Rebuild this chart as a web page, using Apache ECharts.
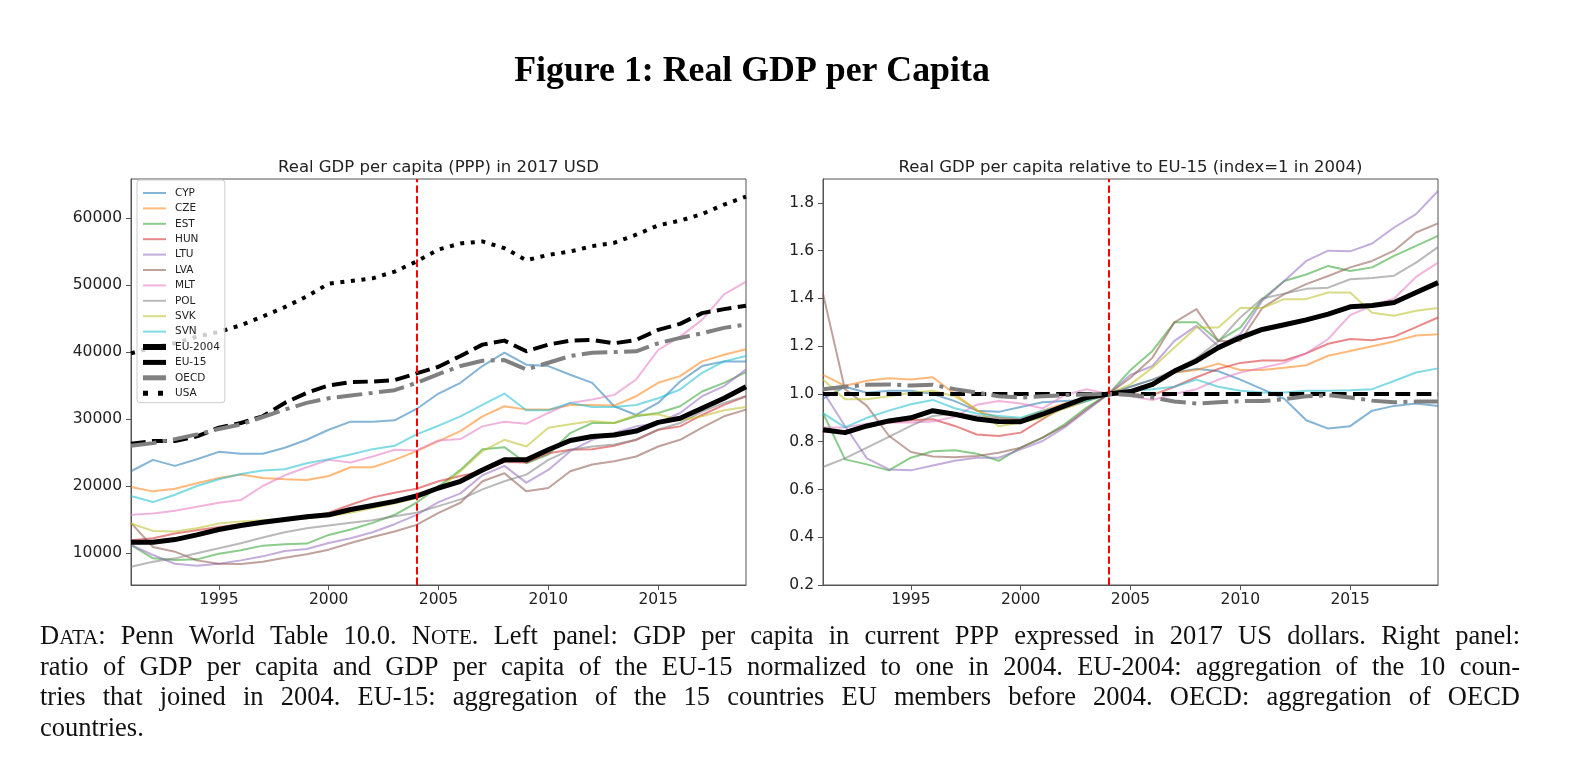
<!DOCTYPE html>
<html><head><meta charset="utf-8">
<script src="https://cdn.jsdelivr.net/npm/echarts@6/dist/echarts.min.js"></script>
<style>html,body{margin:0;padding:0;background:#fff}#c{width:1570px;height:766px}</style>
</head><body><div id="c"></div>
<script>
// ---------- data ----------
const years = ['1991','1992','1993','1994','1995','1996','1997','1998','1999','2000','2001','2002','2003','2004','2005','2006','2007','2008','2009','2010','2011','2012','2013','2014','2015','2016','2017','2018','2019'];
const countries = ['CYP','CZE','EST','HUN','LTU','LVA','MLT','POL','SVK','SVN'];
const aggregatesLeft = ['EU-2004','EU-15','OECD','USA'];
const aggregatesRight = ['EU-2004','EU-15','OECD'];
const leftTicks = [10000,20000,30000,40000,50000,60000];
const rightTicks = [0.2,0.4,0.6,0.8,1.0,1.2,1.4,1.6,1.8];
const xTickYears = ['1995','2000','2005','2010','2015'];
const markYear = '2004';

// Left panel: real GDP per capita (PPP, 2017 USD)
const gdpCYP = [22200,23900,23000,24000,25100,24800,24800,25700,26900,28400,29600,29600,29800,31500,33800,35400,37900,39900,38100,37900,36600,35400,31900,30600,32400,35600,37900,38600,38600];
const gdpCZE = [19850,19200,19600,20400,21200,21700,21200,21000,20900,21500,22800,22800,23900,25200,26700,28200,30400,31900,31400,31400,32100,32100,32000,33400,35400,36400,38600,39600,40400];
const gdpEST = [11200,9200,8950,9050,9900,10400,11100,11300,11400,12700,13500,14500,15700,17500,19900,22400,25500,25800,23400,24700,27900,29400,29400,30400,30900,31900,34100,35400,37000];
const gdpHUN = [11900,12200,12900,13400,13900,14300,14700,15000,15200,16000,17200,18300,19000,19600,20700,21500,22200,23600,23500,24900,25400,25500,26000,26900,28400,28900,30600,32100,33400];
const gdpLTU = [11200,9700,8400,8100,8400,8900,9500,10300,10600,11500,12200,13100,14300,15700,17600,18900,21600,23000,20500,22400,25200,26900,27900,28900,29400,30900,33400,34900,37400];
const gdpLVA = [14500,10900,10200,8900,8400,8350,8700,9300,9800,10500,11500,12400,13200,14200,16000,17500,20700,21900,19200,19700,22200,23200,23700,24400,25900,26900,28700,30400,31400];
const gdpMLT = [15700,15900,16300,16900,17500,17900,20000,21600,22800,23900,23500,24400,25400,25300,26800,27000,28900,29600,29300,30900,32400,32900,33600,35900,40300,42300,44800,48600,50500];
const gdpPOL = [7960,8700,9200,9950,10700,11450,12300,13100,13700,14100,14500,14900,15500,16000,17000,18000,19500,20700,21700,23900,25400,25900,26200,26900,28400,29400,31100,32400,33400];
const gdpSVK = [14400,13300,13200,13700,14400,14700,14900,15100,15200,15500,16000,16700,17400,18200,19500,22200,25200,26900,25900,28700,29200,29700,29400,30600,30700,29800,30400,31300,31800];
const gdpSVN = [18500,17600,18700,20000,21000,21800,22300,22500,23400,24000,24700,25500,26000,27700,29000,30400,32100,33800,31300,31300,32400,31800,31800,32100,33100,34400,36900,38600,39400];
const gdpEU2004 = [11600,11600,12000,12700,13500,14100,14600,15000,15400,15700,16500,17100,17700,18500,19700,20700,22400,23900,23900,25400,26800,27400,27600,28200,29500,30100,31600,33100,34800];
const gdpEU15 = [26300,26700,26700,27400,28700,29400,30400,32400,33900,35000,35500,35600,35800,36800,37800,39400,41100,41700,40100,41100,41700,41800,41300,41800,43300,44200,45800,46400,46900];
const gdpOECD = [26000,26400,27000,27700,28500,29200,30300,31400,32400,33100,33500,33900,34300,35400,36700,37900,38700,38800,37400,38400,39400,39900,40000,40100,41300,42100,42800,43600,44100];
const gdpUSA = [39800,40700,41300,42300,43000,44000,45300,46700,48300,50200,50600,51000,52000,53500,55300,56200,56500,55500,53700,54500,55000,55800,56300,57500,58900,59600,60600,62000,63200];

// Right panel: relative to EU-15 (index = 1 in 2004)
const relCYP = [0.98,1.03,1.005,1.013,1.013,1.0,0.97,0.93,0.925,0.945,0.965,0.97,0.975,1.0,1.03,1.06,1.09,1.105,1.095,1.06,1.02,0.98,0.89,0.855,0.865,0.93,0.95,0.96,0.95];
const relCZE = [1.08,1.034,1.055,1.066,1.06,1.07,1.0,0.93,0.90,0.895,0.93,0.96,0.98,1.0,1.013,1.034,1.09,1.10,1.127,1.10,1.10,1.11,1.12,1.16,1.18,1.20,1.22,1.245,1.25];
const relEST = [0.92,0.726,0.705,0.68,0.733,0.76,0.764,0.75,0.72,0.775,0.817,0.873,0.943,1.0,1.10,1.18,1.30,1.30,1.222,1.278,1.397,1.473,1.50,1.536,1.515,1.53,1.578,1.62,1.662];
const relHUN = [0.842,0.845,0.86,0.88,0.89,0.894,0.866,0.83,0.824,0.838,0.894,0.95,0.978,1.0,1.0,0.995,1.03,1.07,1.105,1.13,1.14,1.14,1.17,1.21,1.23,1.225,1.24,1.28,1.32];
const relLTU = [1.01,0.866,0.73,0.684,0.68,0.70,0.72,0.733,0.733,0.768,0.803,0.86,0.93,1.0,1.08,1.117,1.222,1.285,1.20,1.25,1.39,1.473,1.557,1.60,1.597,1.63,1.697,1.753,1.85];
const relLVA = [1.42,1.02,0.95,0.825,0.757,0.738,0.735,0.74,0.754,0.775,0.817,0.866,0.936,1.0,1.068,1.152,1.30,1.355,1.222,1.222,1.36,1.418,1.46,1.494,1.53,1.557,1.60,1.676,1.714];
const relMLT = [0.86,0.86,0.875,0.88,0.88,0.885,0.905,0.955,0.97,0.96,0.94,0.995,1.02,1.0,0.99,0.975,1.0,1.02,1.06,1.09,1.11,1.13,1.17,1.23,1.33,1.37,1.40,1.49,1.55];
const relPOL = [0.694,0.73,0.775,0.82,0.866,0.908,0.918,0.908,0.90,0.894,0.92,0.94,0.97,1.0,1.03,1.06,1.10,1.15,1.22,1.32,1.40,1.42,1.44,1.445,1.48,1.485,1.495,1.55,1.615];
const relSVK = [1.06,0.978,0.978,0.99,1.005,1.013,0.99,0.935,0.865,0.88,0.90,0.94,0.97,1.0,1.04,1.11,1.194,1.278,1.278,1.36,1.36,1.397,1.397,1.425,1.425,1.34,1.327,1.348,1.36];
const relSVN = [0.92,0.86,0.90,0.93,0.957,0.975,0.94,0.918,0.908,0.90,0.93,0.95,0.97,1.0,1.013,1.02,1.03,1.06,1.03,1.013,1.006,1.006,1.013,1.013,1.015,1.02,1.054,1.09,1.107];
const relEU2004 = [0.85,0.838,0.866,0.887,0.90,0.93,0.915,0.895,0.885,0.884,0.915,0.95,0.985,1.0,1.01,1.04,1.096,1.138,1.194,1.236,1.27,1.29,1.31,1.334,1.365,1.37,1.383,1.425,1.466];
const relEU15 = [1,1,1,1,1,1,1,1,1,1,1,1,1,1,1,1,1,1,1,1,1,1,1,1,1,1,1,1,1];
const relOECD = [1.02,1.03,1.038,1.04,1.035,1.038,1.02,1.006,0.99,0.985,0.99,0.995,0.998,1.0,0.996,0.985,0.968,0.96,0.965,0.97,0.97,0.978,0.99,0.995,0.985,0.972,0.965,0.968,0.968];

const leftData = {CYP:gdpCYP,CZE:gdpCZE,EST:gdpEST,HUN:gdpHUN,LTU:gdpLTU,LVA:gdpLVA,MLT:gdpMLT,POL:gdpPOL,SVK:gdpSVK,SVN:gdpSVN,'EU-2004':gdpEU2004,'EU-15':gdpEU15,OECD:gdpOECD,USA:gdpUSA};
const rightData = {CYP:relCYP,CZE:relCZE,EST:relEST,HUN:relHUN,LTU:relLTU,LVA:relLVA,MLT:relMLT,POL:relPOL,SVK:relSVK,SVN:relSVN,'EU-2004':relEU2004,'EU-15':relEU15,OECD:relOECD};

// ---------- styles ----------
const colors = {CYP:'#1f77b4',CZE:'#ff7f0e',EST:'#2ca02c',HUN:'#d62728',LTU:'#9467bd',LVA:'#8c564b',MLT:'#e377c2',POL:'#7f7f7f',SVK:'#bcbd22',SVN:'#17becf'};
const aggStyle = {
  'EU-2004': {color:'#000000', width:5, type:'solid', opacity:1},
  'EU-15': {color:'#000000', width:4, type:[14.8,6.4], opacity:1},
  'OECD': {color:'#808080', width:4, type:[25.6,6.4,4,6.4], opacity:1},
  'USA': {color:'#000000', width:4, type:[4,6.6], opacity:1}
};
const legendSample = {
  'EU-2004': {width:6, type:'solid'},
  'EU-15': {width:5, type:'solid'},
  'OECD': {width:5, type:'solid'},
  'USA': {width:5, type:[5,10]}
};
function styleOf(name){
  if (colors[name]) return {color:colors[name], width:2, type:'solid', opacity:0.55};
  return aggStyle[name];
}
const markLineDef = {
  silent:true, symbol:['none','none'], label:{show:false}, animation:false,
  lineStyle:{color:'#ff0000', width:2, type:[7.4,3.2], opacity:1},
  emphasis:{disabled:true},
  data:[{xAxis: markYear}]
};
function makeSeries(name, data, idx, withMark){
  const st = styleOf(name);
  const s = {
    name, type:'line', data, xAxisIndex:idx, yAxisIndex:idx,
    symbol:'none', showSymbol:false, smooth:false, animation:false, silent:true,
    color: st.color,
    lineStyle:{color:st.color, width:st.width, type:st.type, opacity:st.opacity, cap:'butt', join:'round'},
    emphasis:{disabled:true}
  };
  if (withMark) s.markLine = markLineDef;
  return s;
}
const series = [];
const leftNames = countries.concat(aggregatesLeft);
leftNames.forEach((n,i)=>series.push(makeSeries(n, leftData[n], 0, i===leftNames.length-1)));
const rightNames = countries.concat(aggregatesRight);
rightNames.forEach((n,i)=>series.push(makeSeries(n, rightData[n], 1, i===rightNames.length-1)));

const legendData = leftNames.map(n=>{
  const st = styleOf(n);
  const ls = legendSample[n] || {width:2, type:'solid'};
  return {name:n, itemStyle:{opacity:0, borderWidth:0},
    lineStyle:{color:st.color, width:ls.width, type:ls.type, opacity:st.opacity, cap:'butt'}};
});

const FONT = 'DejaVu Sans';
const axisColor = '#555555';
const labelColor = '#222222';
function xAxisDef(gi){
  return {
    type:'category', data:years, gridIndex:gi, boundaryGap:false,
    axisLine:{show:true, lineStyle:{color:axisColor, width:1}},
    axisTick:{show:true, length:5, lineStyle:{color:axisColor}, interval:(i,v)=>xTickYears.indexOf(v)>=0},
    axisLabel:{show:true, margin:7, fontSize:15.5, fontFamily:FONT, color:labelColor, interval:(i,v)=>xTickYears.indexOf(v)>=0},
    splitLine:{show:false}
  };
}
function yAxisDef(gi, min, max, ticks, fmt){
  return {
    type:'value', gridIndex:gi, min, max, scale:true,
    axisLine:{show:true, lineStyle:{color:axisColor, width:1}},
    axisTick:{show:true, length:5, lineStyle:{color:axisColor}, customValues:ticks},
    axisLabel:{show:true, margin:9, fontSize:15.5, fontFamily:FONT, color:labelColor, customValues:ticks, formatter:fmt},
    splitLine:{show:false}
  };
}

// ---------- caption (justified text) ----------
const CAP_FS = 26.5, CAP_SC = 21, CAP_FONT = '"Liberation Serif", "Times New Roman", serif';
const capLines = [
  'D{sc|ATA}: Penn World Table 10.0. N{sc|OTE}. Left panel: GDP per capita in current PPP expressed in 2017 US dollars. Right panel:',
  'ratio of GDP per capita and GDP per capita of the EU-15 normalized to one in 2004. EU-2004: aggregation of the 10 coun-',
  'tries that joined in 2004.  EU-15: aggregation of the 15 countries EU members before 2004.  OECD: aggregation of OECD',
  'countries.'
];
const capY = [637, 668, 698, 729];
const capLeft = 40, capRight = 1520;
const mctx = document.createElement('canvas').getContext('2d');
function measure(t, size){ mctx.font = size + 'px ' + CAP_FONT; return mctx.measureText(t).width; }
function segments(word){
  const out=[]; const re=/\{sc\|([^}]*)\}/g; let last=0, m;
  while((m=re.exec(word))){ if(m.index>last) out.push([word.slice(last,m.index),CAP_FS]); out.push([m[1],CAP_SC]); last=re.lastIndex; }
  if(last<word.length) out.push([word.slice(last),CAP_FS]);
  return out;
}
const graphics = [];
capLines.forEach((line, li)=>{
  const words = line.split(/\s+/).map(w=>{ const sg=segments(w); return {sg, w: sg.reduce((a,s)=>a+measure(s[0],s[1]),0)}; });
  const total = words.reduce((a,w)=>a+w.w,0);
  const justify = li < capLines.length-1;
  const gap = justify ? (capRight-capLeft-total)/(words.length-1) : measure(' ',CAP_FS);
  let x = capLeft;
  words.forEach(wd=>{
    let sx = x;
    wd.sg.forEach(s=>{
      const dy = (CAP_FS - s[1]) * 0.3;
      graphics.push({type:'text', x:sx, y:capY[li] + dy, silent:true,
        style:{text:s[0], fontSize:s[1], fontFamily:CAP_FONT, fill:'#111111', align:'left', verticalAlign:'middle'}});
      sx += measure(s[0], s[1]);
    });
    x += wd.w + gap;
  });
});
graphics.push({type:'text', x:752, y:72, silent:true, style:{text:'Figure 1: Real GDP per Capita', fontSize:35.8, fontWeight:'bold', fontFamily:CAP_FONT, fill:'#000', align:'center', verticalAlign:'middle'}});
graphics.push({type:'text', x:438.5, y:168, silent:true, style:{text:'Real GDP per capita (PPP) in 2017 USD', fontSize:16.5, fontFamily:FONT, fill:labelColor, align:'center', verticalAlign:'middle'}});
graphics.push({type:'text', x:1130.5, y:168, silent:true, style:{text:'Real GDP per capita relative to EU-15 (index=1 in 2004)', fontSize:16.5, fontFamily:FONT, fill:labelColor, align:'center', verticalAlign:'middle'}});

const option = {
  backgroundColor:'#ffffff',
  animation:false,
  grid:[
    {left:131, top:179, width:615, height:406, show:true, borderColor:axisColor, borderWidth:1, backgroundColor:'transparent', containLabel:false},
    {left:823, top:179, width:615, height:406, show:true, borderColor:axisColor, borderWidth:1, backgroundColor:'transparent', containLabel:false}
  ],
  xAxis:[xAxisDef(0), xAxisDef(1)],
  yAxis:[
    yAxisDef(0, 5224, 65820, leftTicks, v=>String(v)),
    yAxisDef(1, 0.2, 1.9, rightTicks, v=>v.toFixed(1))
  ],
  legend:{
    show:true, orient:'vertical', left:137, top:180,
    data:legendData,
    itemWidth:23, itemHeight:10, itemGap:4.4,
    padding:[7.5,5,4,3],
    backgroundColor:'rgba(255,255,255,0.8)', borderColor:'#cccccc', borderWidth:1, borderRadius:3,
    selectedMode:false,
    itemStyle:{opacity:0, borderWidth:0},
    textStyle:{fontSize:10.5, fontFamily:FONT, color:labelColor, lineHeight:11, padding:[0,0,0,4]}
  },
  series,
  graphic:graphics
};
const chart = echarts.init(document.getElementById('c'), null, {renderer:'canvas'});
chart.setOption(option);
</script>
</body></html>
